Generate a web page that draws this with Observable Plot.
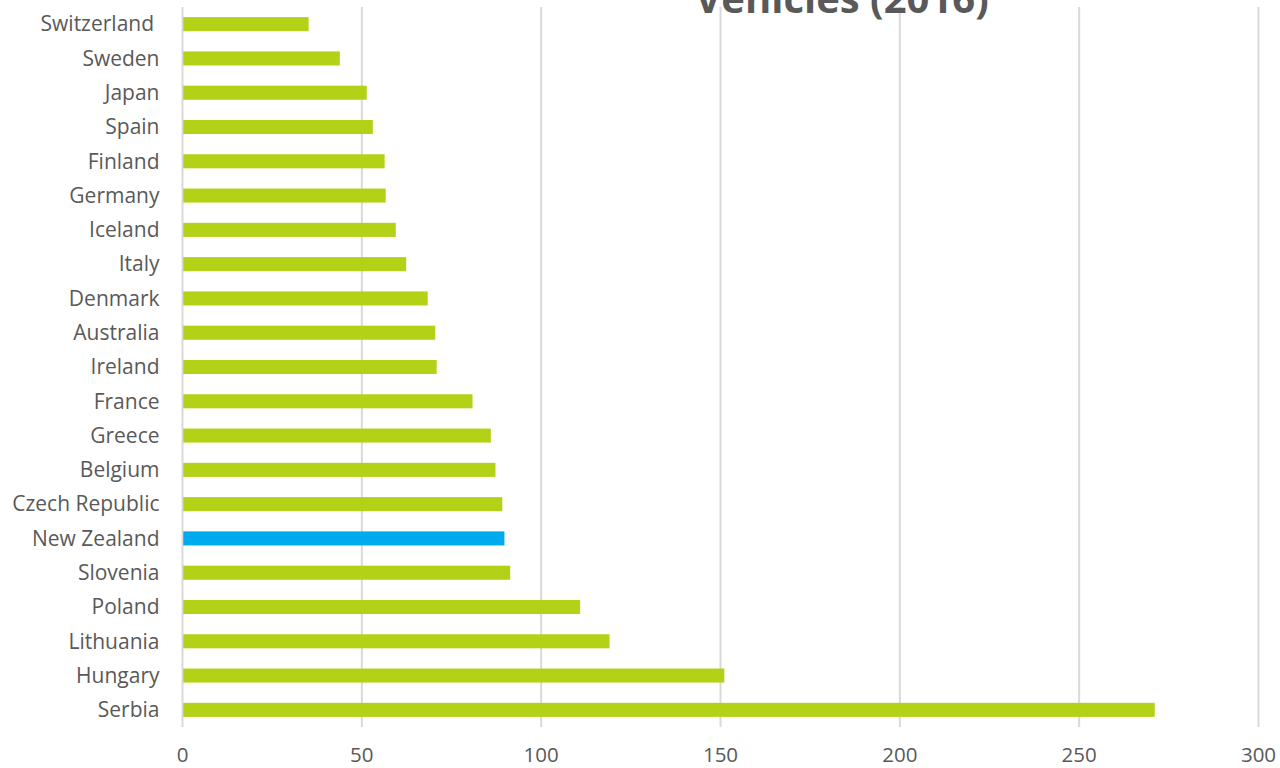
<!DOCTYPE html>
<html>
<head>
<meta charset="utf-8">
<script src="https://cdn.jsdelivr.net/npm/d3@7"></script>
<script src="https://cdn.jsdelivr.net/npm/@observablehq/plot@0.6"></script>
<style>
  html, body { margin: 0; padding: 0; background: #fff; }
  #chart { position: relative; width: 1280px; height: 768px; overflow: hidden; }
  #title { position: absolute; left: 842px; top: -22.5px; transform: translateX(-50%);
           font-family: "Open Sans", sans-serif; font-weight: 700; font-size: 40px; line-height: 1;
           color: #595959; white-space: nowrap; pointer-events: none; }
</style>
</head>
<body>
<div id="chart"><div id="title">Vehicles (2016)</div></div>
<script>
const countries = ["Switzerland\u00a0", "Sweden", "Japan", "Spain", "Finland", "Germany", "Iceland", "Italy",
  "Denmark", "Australia", "Ireland", "France", "Greece", "Belgium", "Czech Republic", "New Zealand",
  "Slovenia", "Poland", "Lithuania", "Hungary", "Serbia"];
const values = [35.3, 44.0, 51.5, 53.2, 56.5, 56.8, 59.6, 62.5, 68.5, 70.6, 71.0, 81.0, 86.1, 87.4,
  89.3, 89.9, 91.5, 111.0, 119.2, 151.2, 271.2];
const highlight = "New Zealand";
const xTicks = [0, 50, 100, 150, 200, 250, 300];

const data = countries.map((c, i) => ({country: c, value: values[i]}));

const chart = Plot.plot({
  width: 1280,
  height: 768,
  marginLeft: 182,
  marginRight: 22,
  marginTop: 7,
  marginBottom: 41,
  style: {fontFamily: "'Open Sans', sans-serif", fontSize: "21px", color: "#595959", background: "transparent"},
  x: {domain: [0, 300], ticks: xTicks, label: null},
  y: {domain: countries, paddingInner: 0.59, paddingOuter: 0.295, round: false, label: null},
  marks: [
    Plot.ruleX(xTicks, {stroke: "#d9d9d9", strokeWidth: 2}),
    Plot.barX(data, {x1: 0.35, x2: "value", y: "country",
      fill: d => d.country === highlight ? "#00aaee" : "#b3d116"}),
    Plot.axisX({ticks: xTicks, tickSize: 0, tickPadding: 20, fontSize: 20.5}),
    Plot.axisY({tickSize: 0, tickPadding: 23, fontSize: 21})
  ]
});
document.getElementById("chart").prepend(chart);
</script>
</body>
</html>
